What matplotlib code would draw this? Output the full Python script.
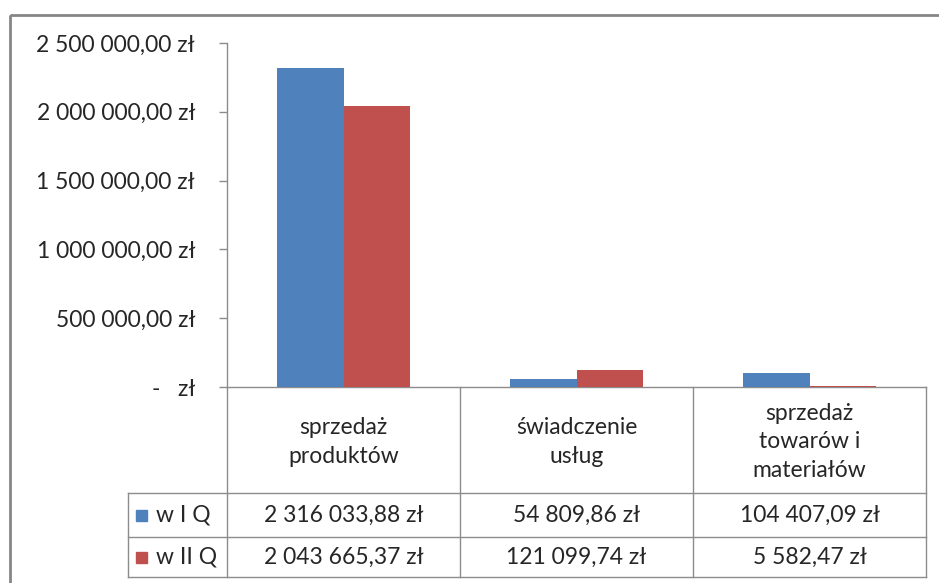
import matplotlib
matplotlib.use("Agg")
import matplotlib.pyplot as plt
from matplotlib.lines import Line2D
from matplotlib.patches import Rectangle
from matplotlib.transforms import blended_transform_factory
from matplotlib.ticker import FuncFormatter

plt.rcParams['font.family'] = ['Lato', 'DejaVu Sans']

categories = ["sprzedaż\nproduktów", "świadczenie\nusług", "sprzedaż\ntowarów i\nmateriałów"]
series_names = ["w I Q", "w II Q"]
q1_values = [2316033.88, 54809.86, 104407.09]
q2_values = [2043665.37, 121099.74, 5582.47]
y_ticks = [0, 500000, 1000000, 1500000, 2000000, 2500000]

BLUE = "#4F81BD"
RED = "#C0504D"
GRID = "#8C8C8C"
TXT = "#262626"
FS = 16.5


def pln(v):
    if abs(v) < 0.005:
        return "-   zł"
    whole = int(v)
    frac = int(round((v - whole) * 100))
    s = f"{whole:,}".replace(",", " ")
    return f"{s},{frac:02d} zł"


W, H = 939, 583
fig = plt.figure(figsize=(W / 100, H / 100), dpi=100)

# overlay in pixel coordinates
ov = fig.add_axes([0, 0, 1, 1], zorder=0)
ov.set_xlim(0, W)
ov.set_ylim(H, 0)
ov.axis("off")

L, R, T, B = 227, 926, 43, 387
ax = fig.add_axes([L / W, 1 - B / H, (R - L) / W, (B - T) / H], zorder=1)
ax.patch.set_alpha(0)

n = len(categories)
x = list(range(n))
bw = 1 / 3.5
ax.bar([i - bw / 2 for i in x], q1_values, width=bw, color=BLUE, zorder=3)
ax.bar([i + bw / 2 for i in x], q2_values, width=bw, color=RED, zorder=3)
ax.set_xlim(-0.5, n - 0.5)
ax.set_ylim(0, 2500000)
ax.set_yticks(y_ticks)
ax.yaxis.set_major_formatter(FuncFormatter(lambda v, p: pln(v)))
ax.set_xticks([])
for s in ["top", "right"]:
    ax.spines[s].set_visible(False)
ax.spines["left"].set_color(GRID)
ax.spines["bottom"].set_color(GRID)
ax.spines["left"].set_linewidth(1)
ax.spines["bottom"].set_linewidth(1)
ax.tick_params(axis="y", length=6, color=GRID, width=1, pad=17, labelsize=FS, labelcolor=TXT)

# table with x from data coords, y in pixels
tr = blended_transform_factory(ax.transData, ov.transData)
row_y = [493, 537, 577]
tab_left = 128

def vline(xd, y0, y1):
    ov.add_line(Line2D([xd, xd], [y0, y1], transform=tr, color=GRID, lw=1, clip_on=False))

for b in [i - 0.5 for i in range(n + 1)]:
    vline(b, B, row_y[-1])
for yy in row_y:
    ov.add_line(Line2D([tab_left, R], [yy, yy], color=GRID, lw=1, clip_on=False))
ov.add_line(Line2D([tab_left, tab_left], [row_y[0], row_y[-1]], color=GRID, lw=1, clip_on=False))

for i, c in enumerate(categories):
    ov.text(i, (B + row_y[0]) / 2 + 2, c, transform=tr, ha="center", va="center",
            fontsize=FS, color=TXT, linespacing=1.45)

colors = [BLUE, RED]
for r, (name, vals) in enumerate(zip(series_names, [q1_values, q2_values])):
    yc = (row_y[r] + row_y[r + 1]) / 2
    ov.add_patch(Rectangle((136, yc - 5.5), 11, 11, color=colors[r]))
    ov.text(156, yc, name, ha="left", va="center", fontsize=FS, color=TXT)
    for i, v in enumerate(vals):
        ov.text(i, yc, pln(v), transform=tr, ha="center", va="center",
                fontsize=FS, color=TXT)

# chart-area border (clipped at the figure edge)
ov.add_patch(Rectangle((9.5, 14.5), 1000, 1000, fill=False, edgecolor="#868686", lw=2, clip_on=False))

fig.savefig("out.png", dpi=100)
